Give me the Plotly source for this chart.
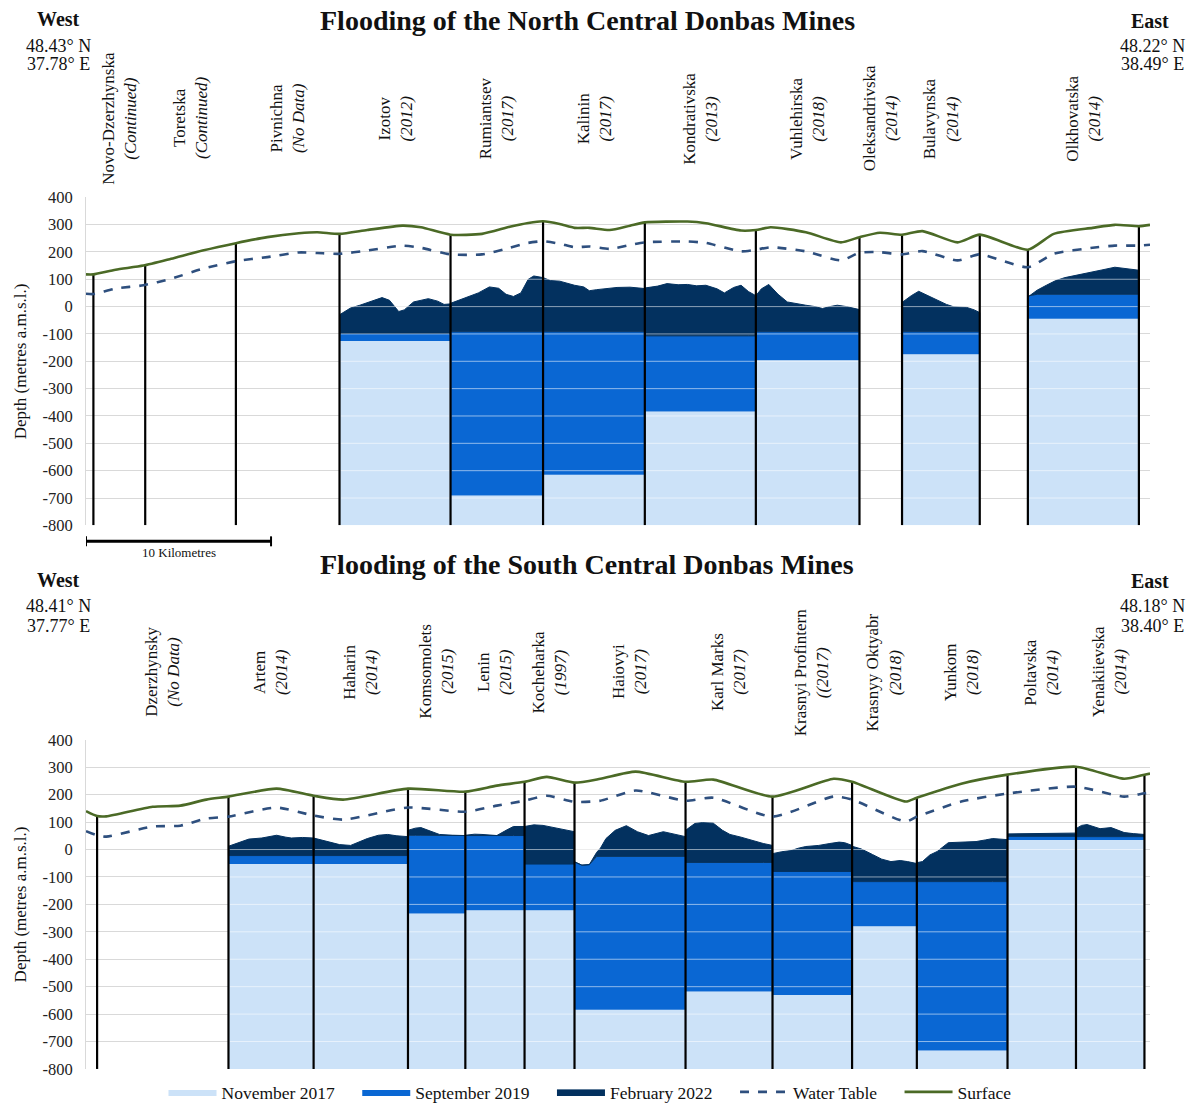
import numpy as np
import plotly.graph_objects as go

# ---------------- DATA : North Central Donbas ----------------
north_bounds = [0.4, 3.2, 8.1, 13.7, 19.7, 24.7, 30.2, 36.2, 41.8, 44.1, 48.3, 50.9, 56.9]
north_mines = ["Novo-Dzerzhynska", "Toretska", "Pivnichna", "Izotov", "Rumiantsev", "Kalinin",
               "Kondrativska", "Vuhlehirska", "Oleksandrivska", "Bulavynska", "", "Olkhovatska"]
north_notes = ["(Continued)", "(Continued)", "(No Data)", "(2012)", "(2017)", "(2017)",
               "(2013)", "(2018)", "(2014)", "(2014)", "", "(2014)"]
north_nov2017 = [None, None, None, -126, -691, -615, -384, -196, None, -174, None, -44]
north_sep2019 = [None, None, None, -98, -92, -92, -107, -92, None, -92, None, 45]
north_feb2022_x = [None, None, None,
                   [13.7, 14.3, 14.8, 15.5, 16.0, 16.4, 16.9, 17.2, 17.7, 18.5, 19.0, 19.35, 19.7],
                   [19.7, 20.6, 21.2, 21.8, 22.3, 22.7, 23.1, 23.5, 23.9, 24.2, 24.7],
                   [24.7, 25.1, 25.6, 26.0, 26.4, 26.9, 27.2, 27.6, 28.1, 28.7, 29.4, 30.2],
                   [30.2, 30.9, 31.4, 32.0, 32.5, 33.0, 33.5, 34.1, 34.5, 35.0, 35.4, 35.8, 36.2],
                   [36.2, 36.5, 36.9, 37.4, 37.9, 38.4, 38.9, 39.4, 39.8, 40.2, 40.6, 41.1, 41.6, 41.8],
                   None,
                   [44.1, 44.6, 45.0, 45.5, 46.0, 46.5, 46.9, 47.6, 48.0, 48.3],
                   None,
                   [50.9, 51.0, 51.4, 51.9, 52.4, 52.9, 53.5, 54.2, 54.9, 55.6, 56.1, 56.5, 56.9]]
north_feb2022_y = [None, None, None,
                   [-30, -5, 5, 20, 33, 23, -18, -12, 17, 29, 20, 8, 10],
                   [12, 34, 50, 72, 67, 45, 37, 50, 100, 112, 106],
                   [106, 95, 93, 85, 78, 72, 58, 62, 66, 70, 71, 66],
                   [68, 75, 84, 80, 81, 76, 78, 65, 50, 70, 78, 55, 40],
                   [40, 65, 81, 45, 17, 10, 5, 0, -7, 0, 5, 0, -7, -11],
                   None,
                   [15, 40, 56, 40, 23, 8, -1, -3, -12, -22],
                   None,
                   [35, 40, 60, 78, 95, 106, 115, 126, 134, 144, 140, 135, 133]]
north_profile_x = [0.0, 0.4, 1.6, 3.1, 4.6, 6.3, 8.1, 9.8, 11.5, 12.5, 13.7, 15.2, 17.1, 18.1, 19.7,
                   21.4, 22.9, 23.9, 24.7, 25.6, 26.4, 27.2, 28.3, 29.4, 30.2, 32.5, 33.5, 35.4, 36.2,
                   37.0, 38.9, 40.8, 41.8, 42.9, 44.1, 45.2, 47.1, 48.3, 50.9, 52.3, 54.4, 55.6, 56.9, 57.5]
north_surface = [118, 118, 135, 150, 175, 205, 232, 254, 268, 272, 266, 280, 296, 290, 263,
                 266, 292, 306, 312, 302, 288, 288, 280, 296, 308, 311, 305, 278, 280,
                 290, 272, 235, 254, 270, 263, 276, 235, 263, 208, 266, 288, 299, 294, 299]
north_water = [47, 46, 66, 78, 102, 138, 166, 181, 198, 196, 193, 205, 223, 215, 191,
               191, 215, 233, 239, 230, 217, 220, 211, 225, 235, 238, 233, 202, 208,
               217, 202, 169, 197, 199, 191, 203, 169, 191, 144, 193, 215, 223, 223, 226]

# ---------------- DATA : South Central Donbas ----------------
south_bounds = [0.6, 7.7, 12.3, 17.4, 20.5, 23.7, 26.4, 32.4, 37.1, 41.4, 44.9, 49.8, 53.5, 57.2]
south_mines = ["Dzerzhynsky", "Artem", "Haharin", "Komsomolets", "Lenin", "Kocheharka", "Haiovyi",
               "Karl Marks", "Krasnyi Profintern", "Krasnyy Oktyabr", "Yunkom", "Poltavska", "Yenakiievska"]
south_notes = ["(No Data)", "(2014)", "(2014)", "(2015)", "(2015)", "(1997)", "(2017)",
               "(2017)", "((2017)", "(2018)", "(2018)", "(2014)", "(2014)"]
south_nov2017 = [None, -53, -53, -233, -221, -221, -584, -518, -530, -280, -733, 35, 35]
south_sep2019 = [None, -22, -22, 52, 51, -53, -25, -47, -80, -117, -117, 48, 47]
south_feb2022_x = [None,
                   [7.7, 8.2, 8.8, 9.5, 10.3, 10.8, 11.1, 11.7, 12.3],
                   [12.3, 12.7, 13.1, 13.7, 14.3, 14.8, 15.2, 15.8, 16.3, 16.8, 17.4],
                   [17.4, 17.8, 18.1, 18.6, 19.1, 19.8, 20.5],
                   [20.5, 21.0, 21.4, 22.2, 22.7, 23.1, 23.7],
                   [23.7, 24.2, 24.7, 25.2, 25.7, 26.1, 26.4],
                   [26.4, 26.8, 27.2, 27.6, 27.8, 28.1, 28.6, 29.2, 29.8, 30.4, 31.2, 31.8, 32.4],
                   [32.4, 32.9, 33.3, 33.9, 34.4, 34.8, 35.4, 36.0, 36.6, 37.1],
                   [37.1, 37.6, 38.1, 38.5, 38.9, 39.6, 40.2, 40.7, 41.0, 41.4],
                   [41.4, 41.9, 42.5, 43.0, 43.5, 44.0, 44.4, 44.9],
                   [44.9, 45.2, 45.6, 46.0, 46.6, 47.3, 48.1, 48.6, 49.0, 49.8],
                   [49.8, 51.6, 53.5],
                   [53.5, 53.8, 54.1, 54.8, 55.4, 56.1, 56.6, 57.2]]
south_feb2022_y = [None,
                   [12, 25, 38, 42, 52, 45, 42, 44, 42],
                   [42, 35, 28, 18, 15, 28, 40, 52, 55, 50, 47],
                   [70, 78, 80, 68, 55, 52, 51],
                   [52, 56, 55, 51, 70, 84, 84],
                   [84, 90, 88, 82, 76, 70, 65],
                   [-45, -57, -55, -10, 5, 40, 70, 87, 65, 51, 65, 55, 47],
                   [70, 95, 98, 96, 70, 55, 45, 33, 22, 15],
                   [-15, -8, -4, 5, 11, 15, 22, 27, 25, 15],
                   [12, 2, -18, -35, -44, -40, -44, -51],
                   [-48, -44, -20, -7, 25, 27, 29, 35, 40, 36],
                   [57, 58, 60],
                   [76, 88, 91, 76, 80, 62, 58, 55]]
south_profile_x = [0.0, 0.6, 1.1, 3.6, 5.1, 6.5, 7.7, 10.3, 12.3, 13.9, 17.4, 20.5, 22.2, 23.7, 24.9,
                   26.4, 27.8, 29.7, 32.4, 33.9, 37.1, 40.4, 41.4, 44.3, 44.9, 47.3, 49.8, 53.5, 56.1, 57.2, 57.5]
south_surface = [140, 122, 121, 156, 160, 182, 193, 222, 196, 182, 222, 211, 233, 247, 265,
                 244, 258, 284, 247, 255, 193, 258, 247, 175, 189, 240, 273, 302, 258, 273, 277]
south_water = [67, 52, 47, 84, 87, 113, 120, 153, 124, 109, 153, 138, 160, 178, 196,
               174, 178, 215, 178, 189, 120, 193, 182, 102, 120, 175, 204, 229, 193, 205, 207]

y_ticks = [400, 300, 200, 100, 0, -100, -200, -300, -400, -500, -600, -700, -800]

# ---------------- STYLE ----------------
FONT = "Liberation Serif, Times New Roman, serif"
NOV_C = "#CCE2F8"
SEP_C = "#0A67D3"
FEB_C = "#03315F"
WT_C = "#2E4F7E"
SURF_C = "#4B6A26"
BOTTOM = -800
W, H = 1192, 1110
NB = "\u00a0" * 4


def py(px):
    # page pixel (from top) -> paper fraction, compensating the capture's vertical mapping
    return 1 - min((px - 8.3) / 0.98, 1108) / H


def px_x(px):
    return px / W


fig = go.Figure()


def add_section(xa, ya, bounds, mines, notes, nov, sep, fx, fy, prof_x, surf, water, first, label_y):
    gx = dict(xaxis=xa, yaxis=ya)
    nx, ny, sx, sy, bx, by, lx, ly = [], [], [], [], [], [], [], []
    for i in range(len(mines)):
        x0, x1 = bounds[i], bounds[i + 1]
        if nov[i] is None:
            continue
        # where the 2022 level dips below the 2019 level, both fills stop at the 2022 line
        cut = [min(sep[i], f) for f in fy[i]]
        nx += [x0, x1, x1, x0, x0, None]
        ny += [BOTTOM, BOTTOM, nov[i], nov[i], BOTTOM, None]
        sx += [x0, x1] + list(fx[i])[::-1] + [x0, None]
        sy += [nov[i], nov[i]] + cut[::-1] + [nov[i], None]
        bx += list(fx[i]) + list(fx[i])[::-1] + [fx[i][0], None]
        by += list(fy[i]) + cut[::-1] + [fy[i][0], None]
        top = max(fy[i])
        for g in y_ticks:
            if BOTTOM < g < top:
                lx += [x0 + 0.06, x1 - 0.06, None]
                ly += [g, g, None]
    fig.add_trace(go.Scatter(x=nx, y=ny, fill="toself", fillcolor=NOV_C, mode="lines",
                             line=dict(width=0, color=NOV_C), name="November 2017" + NB,
                             legendgroup="nov", showlegend=first, hoverinfo="skip", **gx))
    fig.add_trace(go.Scatter(x=sx, y=sy, fill="toself", fillcolor=SEP_C, mode="lines",
                             line=dict(width=0, color=SEP_C), name="September 2019" + NB,
                             legendgroup="sep", showlegend=first, hoverinfo="skip", **gx))
    fig.add_trace(go.Scatter(x=bx, y=by, fill="toself", fillcolor=FEB_C, mode="lines",
                             line=dict(width=1, color=FEB_C), name="February 2022" + NB,
                             legendgroup="feb", showlegend=first, hoverinfo="skip", **gx))
    # light grid lines visible through the water fills
    fig.add_trace(go.Scatter(x=lx, y=ly, mode="lines", line=dict(width=1, color="rgba(255,255,255,0.55)"),
                             showlegend=False, hoverinfo="skip", **gx))
    # mine boundaries from surface down to the bottom
    vx, vy = [], []
    for b in bounds:
        vx += [b, b, None]
        vy += [BOTTOM, float(np.interp(b, prof_x, surf)), None]
    fig.add_trace(go.Scatter(x=vx, y=vy, mode="lines", line=dict(width=2.2, color="#000000"),
                             showlegend=False, hoverinfo="skip", **gx))
    fig.add_trace(go.Scatter(x=prof_x, y=water, mode="lines", name="Water Table" + NB,
                             line=dict(width=2.6, color=WT_C, dash="dash", shape="spline", smoothing=0.6),
                             legendgroup="wt", showlegend=first, hoverinfo="skip", **gx))
    fig.add_trace(go.Scatter(x=prof_x, y=surf, mode="lines", name="Surface",
                             line=dict(width=2.6, color=SURF_C, shape="spline", smoothing=0.6),
                             legendgroup="surf", showlegend=first, hoverinfo="skip", **gx))
    # mine labels
    for i in range(len(mines)):
        if not mines[i]:
            continue
        fig.add_annotation(x=(bounds[i] + bounds[i + 1]) / 2, xref=xa,
                           y=py(label_y), yref="paper",
                           text=f"{mines[i]}<br><i>{notes[i]}</i>", textangle=-90,
                           showarrow=False, font=dict(family=FONT, size=17, color="#111"),
                           align="center", xanchor="center", yanchor="middle")


add_section("x", "y", north_bounds, north_mines, north_notes, north_nov2017, north_sep2019,
            north_feb2022_x, north_feb2022_y, north_profile_x, north_surface, north_water, True, 118)
add_section("x2", "y2", south_bounds, south_mines, south_notes, south_nov2017, south_sep2019,
            south_feb2022_x, south_feb2022_y, south_profile_x, south_surface, south_water, False, 673)

xdom = [px_x(86), px_x(1150)]
yax = dict(range=[-800, 400], tickvals=y_ticks, ticktext=[str(v) for v in y_ticks],
           gridcolor="#D9D9D9", gridwidth=1, zeroline=False,
           showline=True, linecolor="#D9D9D9", linewidth=1, ticks="", ticklabelstandoff=9,
           tickfont=dict(family=FONT, size=16.5, color="#222"), fixedrange=True)
xax = dict(range=[0, 57.5], visible=False, showgrid=False, zeroline=False, fixedrange=True)

fig.update_layout(
    width=W, height=H, margin=dict(l=0, r=0, t=0, b=0),
    paper_bgcolor="white", plot_bgcolor="white",
    font=dict(family=FONT, size=14, color="#111"),
    xaxis=dict(domain=xdom, anchor="y", **xax),
    yaxis=dict(domain=[py(526), py(197)], anchor="x", **yax),
    xaxis2=dict(domain=xdom, anchor="y2", **xax),
    yaxis2=dict(domain=[py(1071), py(741)], anchor="x2", **yax),
    legend=dict(orientation="h", x=px_x(590), xanchor="center", y=py(1099), yanchor="middle",
                font=dict(family=FONT, size=17.5, color="#111"), itemwidth=48, tracegroupgap=0,
                bgcolor="rgba(0,0,0,0)"),
    showlegend=True,
)

# titles and orientation labels
texts = [
    ("<b>Flooding of the North Central Donbas Mines</b>", 587, 20, 28),
    ("<b>Flooding of the South Central Donbas Mines</b>", 587, 565, 28),
    ("<b>West</b>", 58, 18, 20),
    ("<b>East</b>", 1150, 20, 20),
    ("<b>West</b>", 58, 581, 20),
    ("<b>East</b>", 1150, 582, 20),
    ("48.43° N", 58, 45, 18), ("37.78° E", 58, 63, 18),
    ("48.22° N", 1152, 45, 18), ("38.49° E", 1152, 63, 18),
    ("48.41° N", 58, 607, 18), ("37.77° E", 58, 627, 18),
    ("48.18° N", 1152, 607, 18), ("38.40° E", 1152, 627, 18),
]
for t, x, y, s in texts:
    fig.add_annotation(text=t, x=px_x(x), y=py(y), xref="paper", yref="paper", showarrow=False,
                       xanchor="center", yanchor="middle", align="center",
                       font=dict(family=FONT, size=s, color="#111"))

for yc in [(py(526) + py(197)) / 2, (py(1071) + py(741)) / 2]:
    fig.add_annotation(text="Depth (metres a.m.s.l.)", x=px_x(20), y=yc, xref="paper", yref="paper",
                       textangle=-90, showarrow=False, xanchor="center", yanchor="middle",
                       font=dict(family=FONT, size=17, color="#111"))

# scale bar (10 km) under the north section
fig.add_shape(type="line", xref="x", yref="paper", x0=0, x1=10, y0=py(542), y1=py(542),
              line=dict(color="#000", width=3))
for xs in [0, 10]:
    fig.add_shape(type="line", xref="x", yref="paper", x0=xs, x1=xs, y0=py(537), y1=py(547),
                  line=dict(color="#000", width=2))
fig.add_annotation(text="10 Kilometres", x=5, xref="x", y=py(553), yref="paper", showarrow=False,
                   font=dict(family=FONT, size=13, color="#111"), xanchor="center", yanchor="middle")

fig.write_html("out.html", config={"displayModeBar": False},
               post_script="document.body.style.margin='0';document.body.style.overflow='hidden';")
